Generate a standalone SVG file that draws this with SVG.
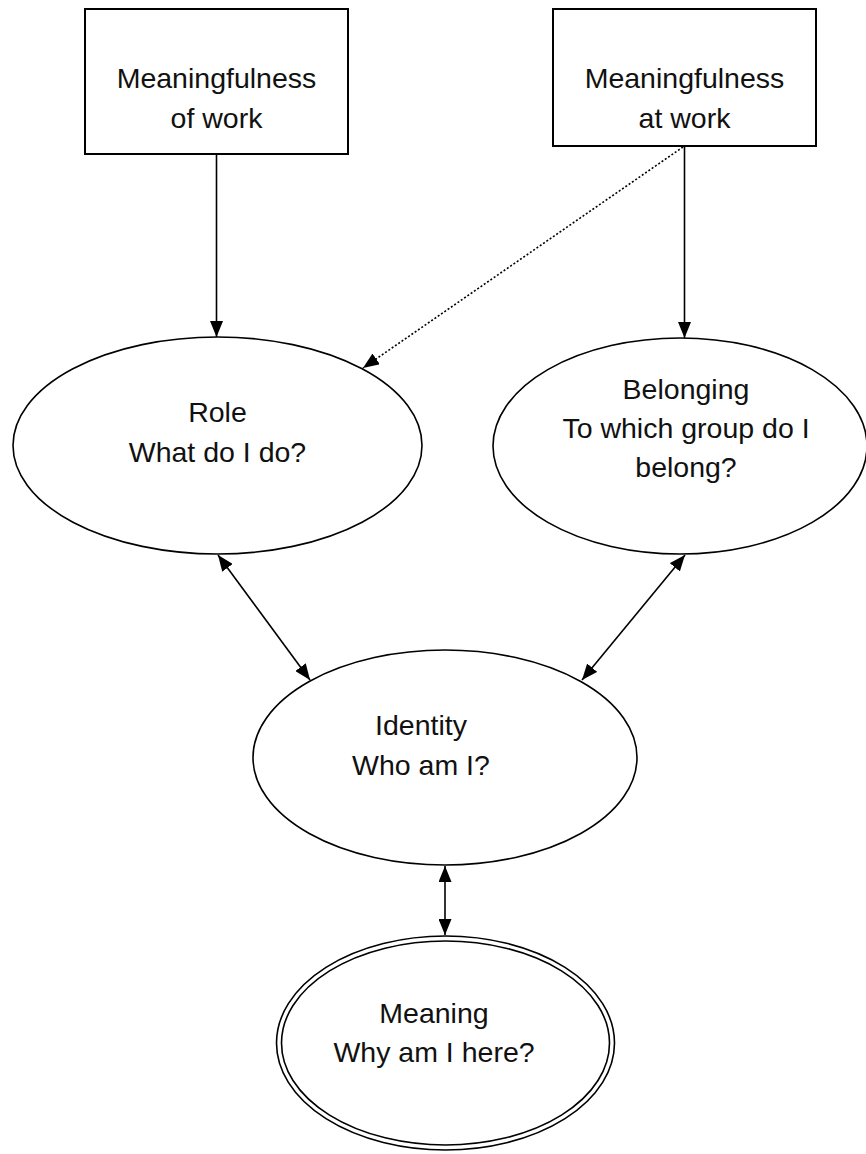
<svg xmlns="http://www.w3.org/2000/svg" width="866" height="1154" viewBox="0 0 866 1154">
<style>
.box{fill:#fff;stroke:#000;stroke-width:2}
.ell{fill:#fff;stroke:#000;stroke-width:1.6}
.t{font-family:"Liberation Sans",Arial,sans-serif;font-size:28.5px;fill:#111;text-anchor:middle}
.c{fill:none;stroke:#000;stroke-width:1.6}
.d{fill:none;stroke:#000;stroke-width:1.6;stroke-dasharray:2 2}
</style>
<defs>
<marker id="ah" markerUnits="userSpaceOnUse" markerWidth="16" markerHeight="13" refX="16" refY="6.5" orient="auto-start-reverse">
<path d="M0,0 L16,6.5 L0,13 z" fill="#000"/>
</marker>
</defs>
<rect width="866" height="1154" fill="#fff"/>
<g id="connectors">
<line class="c" x1="216.5" y1="154" x2="216.5" y2="337" marker-end="url(#ah)"/>
<line class="c" x1="684.5" y1="146" x2="684.5" y2="338" marker-end="url(#ah)"/>
<line class="d" x1="683" y1="147" x2="363" y2="368" marker-end="url(#ah)"/>
<line class="c" x1="218" y1="555" x2="310" y2="680" marker-start="url(#ah)" marker-end="url(#ah)"/>
<line class="c" x1="685" y1="555" x2="582" y2="680" marker-start="url(#ah)" marker-end="url(#ah)"/>
<line class="c" x1="445" y1="866" x2="445" y2="935" marker-start="url(#ah)" marker-end="url(#ah)"/>
</g>
<g id="node-meaningfulness-of-work">
<rect class="box" x="85" y="9" width="263" height="145"/>
<text class="t" x="216.5" y="88">Meaningfulness</text>
<text class="t" x="216.5" y="128">of work</text>
</g>
<g id="node-meaningfulness-at-work">
<rect class="box" x="553" y="9" width="263" height="137"/>
<text class="t" x="684.5" y="88">Meaningfulness</text>
<text class="t" x="684.5" y="128">at work</text>
</g>
<g id="node-role">
<ellipse class="ell" cx="217.5" cy="445.5" rx="204.5" ry="108.5"/>
<text class="t" x="217.5" y="422">Role</text>
<text class="t" x="217.5" y="462">What do I do?</text>
</g>
<g id="node-belonging">
<ellipse class="ell" cx="680" cy="446" rx="187" ry="108"/>
<text class="t" x="686" y="399">Belonging</text>
<text class="t" x="686" y="438">To which group do I</text>
<text class="t" x="686" y="477">belong?</text>
</g>
<g id="node-identity">
<ellipse class="ell" cx="445" cy="757.5" rx="192" ry="107.5"/>
<text class="t" x="421" y="735">Identity</text>
<text class="t" x="421" y="775">Who am I?</text>
</g>
<g id="node-meaning">
<ellipse class="ell" cx="445.5" cy="1043" rx="169" ry="107" stroke-width="2"/>
<ellipse class="ell" cx="445.5" cy="1043" rx="164" ry="102" stroke-width="1.6"/>
<text class="t" x="434" y="1023">Meaning</text>
<text class="t" x="434" y="1062">Why am I here?</text>
</g>
</svg>
